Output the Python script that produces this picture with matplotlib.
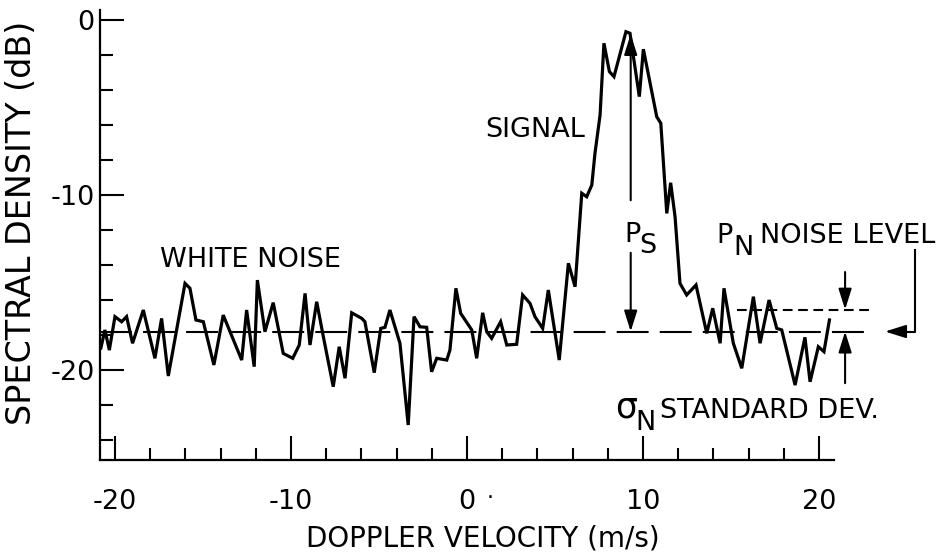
#!/usr/bin/env python3

import matplotlib
matplotlib.use("Agg")
import matplotlib.pyplot as plt
from matplotlib.ticker import MultipleLocator

DPI = 100

# Doppler spectrum: velocity (m/s) and spectral density (dB)
velocity = [-20.80, -20.57, -20.32, -20.00, -19.62, -19.34, -19.00, -18.39, -17.73, -17.35,
            -16.97, -16.02, -15.74, -15.40, -14.98, -14.38, -13.85, -12.80, -12.52, -12.09,
            -11.91, -11.48, -11.01, -10.44, -9.90, -9.53, -9.20, -8.92, -8.54, -8.16,
            -7.60, -7.26, -6.93, -6.55, -5.98, -5.80, -5.27, -4.90, -4.66, -4.38,
            -3.81, -3.34, -3.01, -2.67, -2.29, -2.01, -1.72, -1.15, -0.97, -0.63,
            -0.36, 0.27, 0.55, 0.89, 1.12, 1.40, 1.91, 2.26, 2.82, 3.16,
            3.58, 3.86, 4.30, 4.62, 5.24, 5.76, 6.14, 6.52, 6.80, 7.09,
            7.27, 7.56, 7.78, 8.09, 8.35, 9.03, 9.26, 9.79, 10.02, 10.78,
            11.01, 11.35, 11.57, 11.82, 12.10, 12.48, 13.01, 13.62, 13.96, 14.38,
            14.60, 15.13, 15.61, 16.27, 16.65, 17.16, 17.60, 17.88, 18.64, 19.20,
            19.49, 19.96, 20.28, 20.59]
density = [-18.74, -17.71, -18.86, -16.95, -17.24, -16.95, -18.47, -16.57, -19.33, -17.05,
           -20.34, -15.05, -15.33, -17.14, -17.24, -19.71, -16.86, -19.43, -16.57, -19.81,
           -14.86, -17.81, -16.15, -19.05, -19.33, -18.57, -15.62, -18.57, -16.10, -18.10,
           -20.95, -18.67, -20.47, -16.73, -17.05, -17.24, -20.15, -17.62, -17.56, -16.57,
           -18.47, -23.14, -16.95, -17.53, -17.56, -20.10, -19.33, -19.43, -18.86, -15.33,
           -16.76, -17.71, -19.33, -16.73, -17.81, -18.19, -17.24, -18.57, -18.53, -15.71,
           -16.19, -16.95, -17.62, -15.43, -19.43, -13.90, -15.24, -9.90, -10.10, -9.43,
           -7.62, -5.43, -1.33, -2.95, -3.24, -0.67, -0.76, -4.38, -1.67, -5.53,
           -5.90, -11.05, -9.30, -11.24, -15.05, -15.71, -15.14, -17.90, -16.47, -18.47,
           -15.33, -18.47, -19.90, -15.81, -18.47, -16.00, -17.62, -17.71, -20.86, -18.13,
           -20.67, -18.67, -18.95, -17.14]

noise_level = -17.8     # P_N
noise_upper = -16.55    # P_N + sigma_N
peak_velocity = 9.3     # where P_S is measured

xticks = [-20, -10, 0, 10, 20]
xticklabels = ["-20", "-10", "0", "10", "20"]
yticks = [0, -10, -20]
yticklabels = ["0", "-10", "-20"]

plt.rcParams["font.family"] = ["DejaVu Sans"]
plt.rcParams["lines.scale_dashes"] = False

fig = plt.figure(figsize=(9.37, 5.53), dpi=DPI)
ax = fig.add_axes([100 / 937, 1 - 460 / 553, 734 / 937, 450 / 553])
ax.set_xlim(-20.85, 20.85)
ax.set_ylim(-25.14, 0.57)

for side in ("top", "right"):
    ax.spines[side].set_visible(False)
for side in ("left", "bottom"):
    ax.spines[side].set_linewidth(1.6)

ax.set_xticks(xticks)
ax.set_xticklabels(xticklabels)
ax.set_yticks(yticks)
ax.set_yticklabels(yticklabels)
ax.xaxis.set_minor_locator(MultipleLocator(2))
ax.yaxis.set_minor_locator(MultipleLocator(2))
ax.tick_params(which="major", direction="in", length=17, width=1.5, labelsize=19.5)
ax.tick_params(which="minor", direction="in", length=9, width=1.5)
ax.tick_params(axis="x", which="major", pad=21)
ax.tick_params(axis="y", which="major", pad=4)

ax.set_xlabel("DOPPLER VELOCITY (m/s)", fontsize=20)
ax.xaxis.set_label_coords(0.522, -0.143)
ax.set_ylabel("SPECTRAL DENSITY (dB)", fontsize=24)
ax.yaxis.set_label_coords(-0.084, 0.528)

# spectrum trace
ax.plot(velocity, density, color="black", lw=2.3, solid_joinstyle="miter")

# noise level and noise + one standard deviation
ax.plot([-20.85, 23.07], [noise_level, noise_level], color="black", lw=1.5,
        dashes=(23, 8), clip_on=False)
ax.plot([15.34, 23.07], [noise_upper, noise_upper], color="black", lw=1.5,
        dashes=(7, 4), clip_on=False)

arrow = dict(arrowstyle="-|>,head_length=0.7,head_width=0.22", color="black",
             lw=1.5, shrinkA=0, shrinkB=0, mutation_scale=18)

# P_S arrows
ax.annotate("", xy=(peak_velocity, -0.8), xytext=(peak_velocity, -10.3),
            arrowprops=arrow, annotation_clip=False)
ax.annotate("", xy=(peak_velocity, noise_level), xytext=(peak_velocity, -13.3),
            arrowprops=arrow, annotation_clip=False)

# sigma_N arrows
ax.annotate("", xy=(21.48, noise_upper), xytext=(21.48, -14.4),
            arrowprops=arrow, annotation_clip=False)
ax.annotate("", xy=(21.48, noise_level), xytext=(21.48, -20.75),
            arrowprops=arrow, annotation_clip=False)

# P_N pointer from the label down to the noise level
ax.plot([25.45, 25.45, 24.5], [-13.15, noise_level, noise_level], color="black",
        lw=1.5, clip_on=False)
ax.annotate("", xy=(23.75, noise_level), xytext=(24.6, noise_level),
            arrowprops=arrow, annotation_clip=False)

fs = 19.5
ax.text(-17.44, -14.1, "WHITE NOISE", fontsize=fs, va="baseline")
ax.text(6.70, -6.67, "SIGNAL", fontsize=fs, ha="right", va="baseline")
ax.text(8.95, -12.69, "P", fontsize=fs, va="baseline")
ax.text(9.8, -13.31, "S", fontsize=fs, va="baseline")
ax.text(14.15, -12.74, "P", fontsize=fs, va="baseline", clip_on=False)
ax.text(15.11, -13.43, "N", fontsize=fs, va="baseline", clip_on=False)
ax.text(16.65, -12.74, "NOISE LEVEL", fontsize=fs, va="baseline", clip_on=False)
ax.text(8.4, -22.74, "\u03c3", fontsize=25, va="baseline")
ax.text(9.57, -23.45, "N", fontsize=fs, va="baseline")
ax.text(10.97, -22.74, "STANDARD DEV.", fontsize=fs, va="baseline", clip_on=False)
ax.text(1.3, -27.3, "\u00b7", fontsize=16, ha="center", va="center", clip_on=False)

fig.savefig("out.png", dpi=DPI)
